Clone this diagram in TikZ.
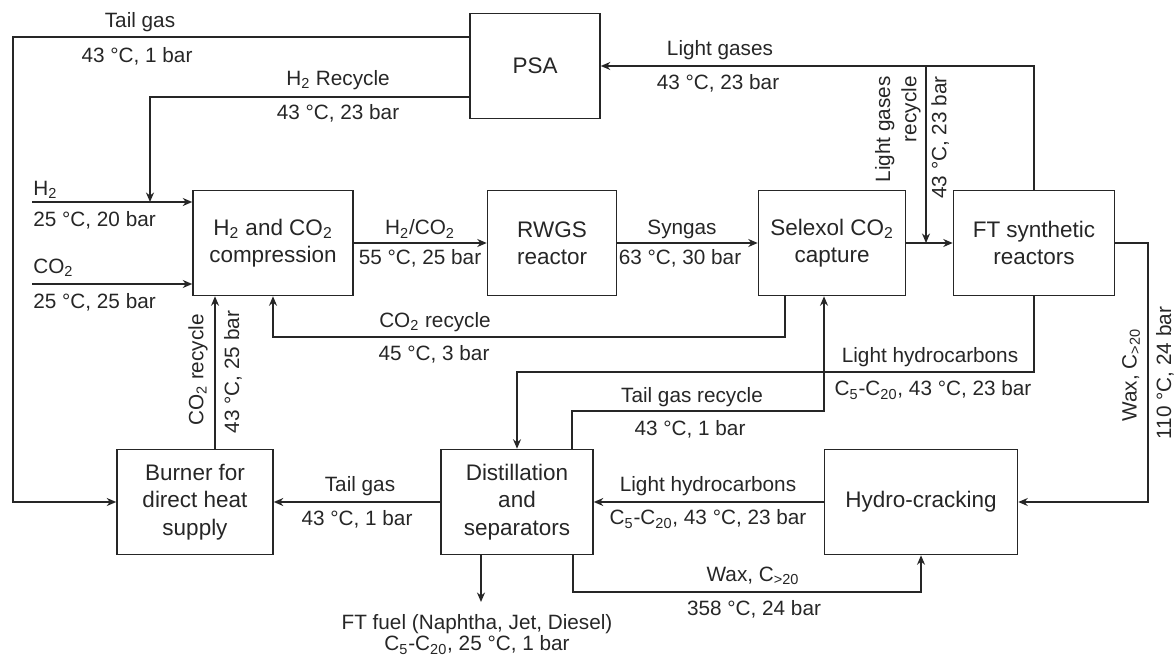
\documentclass[tikz,border=0pt]{standalone}
\usepackage{fontspec}
\setmainfont{Liberation Sans}
\usepackage{tikz}
\usetikzlibrary{positioning,arrows.meta}
\usepackage{xcolor}

\begin{document}
\begin{tikzpicture}[x=0.02cm,y=-0.02cm,>={Stealth[length=1.9mm,width=1.6mm]},
  proc/.style={draw=black!85,line width=0.9pt,align=center,inner sep=0pt,minimum height=2.1cm,text=black!85,font=\fontsize{12.8}{15.5}\selectfont},
  flow/.style={->,draw=black!85,line width=1.6pt},
  lbl/.style={inner sep=0pt,text=black!85,font=\fontsize{11.8}{15}\selectfont}]
\useasboundingbox (0,0) rectangle (1175,658);
\node[proc,minimum width=2.6cm] (psa) at (535,66) {PSA};
\node[proc,minimum width=3.2cm] (comp) at (273,243) {H\textsubscript{2} and CO\textsubscript{2}\\compression};
\node[proc,minimum width=2.58cm] (rwgs) at (552,243) {RWGS\\reactor};
\node[proc,minimum width=2.94cm] (selexol) at (832,243) {Selexol CO\textsubscript{2}\\capture};
\node[proc,minimum width=3.22cm] (ft) at (1034,243) {FT synthetic\\reactors};
\node[proc,minimum width=3.12cm] (burner) at (195,502) {Burner for\\direct heat\\supply};
\node[proc,minimum width=3.04cm] (distill) at (517,502) {Distillation\\and\\separators};
\node[proc,minimum width=3.86cm] (hydro) at (921,502) {Hydro-cracking};

\coordinate (rail) at (13,0);
\coordinate (h2in) at (32,202);
\coordinate (co2in) at (32,284);
\coordinate (h2drop) at (150,202);
\coordinate (lgsplit) at (926,66);
\coordinate (co2bend) at (785,337);
\coordinate (brise) at (215,0);
\coordinate (lhlevel) at (0,372);
\coordinate (tgrup) at (572,0);
\coordinate (tgrbend) at (824,411);
\coordinate (fuelout) at (481,602);
\coordinate (waxlow) at (573,592);
\coordinate (waxrail) at (1148,0);

\draw[flow] (psa.west |- 0,37) -| (rail |- burner.west) -- (burner.west);
\draw[flow] (psa.west |- 0,97) -| (h2drop);
\draw[flow] (h2in) -- (comp.west |- h2in);
\draw[flow] (co2in) -- (comp.west |- co2in);
\draw[flow] (comp.east) -- (rwgs.west);
\draw[flow] (rwgs.east) -- (selexol.west);
\draw[flow] (selexol.east) -- (ft.west);
\draw[flow] (ft.north) |- (psa.east);
\draw[flow] (lgsplit) -- (lgsplit |- selexol.east);
\draw[flow] (selexol.south -| co2bend) -- (co2bend) -| (comp.south);
\draw[flow] (burner.north -| brise) -- (comp.south -| brise);
\draw[flow] (ft.south) |- (lhlevel -| distill.north) -- (distill.north);
\draw[flow] (distill.north -| tgrup) |- (tgrbend) -- (selexol.south -| tgrbend);
\draw[flow] (distill.west) -- (burner.east);
\draw[flow] (hydro.west) -- (distill.east);
\draw[flow] (distill.south -| fuelout) -- (fuelout);
\draw[flow] (distill.south -| waxlow) -- (waxlow) -| (hydro.south);
\draw[flow] (ft.east) -| (waxrail |- hydro.east) -- (hydro.east);

\node[lbl] (tgA) at (140,22) {Tail gas};
\node[lbl] (tgB) at (137,56) {43 °C, 1 bar};
\node[lbl] (hrA) at (338,80) {H\textsubscript{2} Recycle};
\node[lbl] (hrB) at (338,113) {43 °C, 23 bar};
\node[lbl,anchor=west] (hA) at (33,190) {H\textsubscript{2}};
\node[lbl,anchor=west] (hB) at (33,220) {25 °C, 20 bar};
\node[lbl,anchor=west] (cA) at (33,268) {CO\textsubscript{2}};
\node[lbl,anchor=west] (cB) at (33,302) {25 °C, 25 bar};
\node[lbl] (mixA) at (420,229) {H\textsubscript{2}/CO\textsubscript{2}};
\node[lbl] (mixB) at (420,258) {55 °C, 25 bar};
\node[lbl] (sgA) at (682,229) {Syngas};
\node[lbl] (sgB) at (680,258) {63 °C, 30 bar};
\node[lbl] (lgA) at (720,50) {Light gases};
\node[lbl] (lgB) at (718,83) {43 °C, 23 bar};
\node[lbl,rotate=90,align=right,anchor=south east] (lgrA) at (921,76) {Light gases\\recycle};
\node[lbl,rotate=90,anchor=north east] (lgrB) at (931,76) {43 °C, 23 bar};
\node[lbl] (crA) at (435,322) {CO\textsubscript{2} recycle};
\node[lbl] (crB) at (434,354) {45 °C, 3 bar};
\node[lbl,rotate=90] (brA) at (198,370) {CO\textsubscript{2} recycle};
\node[lbl,rotate=90] (brB) at (233,372) {43 °C, 25 bar};
\node[lbl] (lhA) at (930,357) {Light hydrocarbons};
\node[lbl] (lhB) at (933,390) {C\textsubscript{5}-C\textsubscript{20}, 43 °C, 23 bar};
\node[lbl] (trA) at (692,397) {Tail gas recycle};
\node[lbl] (trB) at (690,429) {43 °C, 1 bar};
\node[lbl,rotate=90] (wrA) at (1131,375) {Wax, C\textsubscript{>20}};
\node[lbl,rotate=90] (wrB) at (1165,373) {110 °C, 24 bar};
\node[lbl] (btA) at (360,486) {Tail gas};
\node[lbl] (btB) at (357,519) {43 °C, 1 bar};
\node[lbl] (hlA) at (708,486) {Light hydrocarbons};
\node[lbl] (hlB) at (708,519) {C\textsubscript{5}-C\textsubscript{20}, 43 °C, 23 bar};
\node[lbl] (wlA) at (753,576) {Wax, C\textsubscript{>20}};
\node[lbl] (wlB) at (754,609) {358 °C, 24 bar};
\node[lbl] (fuA) at (477,624) {FT fuel (Naphtha, Jet, Diesel)};
\node[lbl] (fuB) at (477,645) {C\textsubscript{5}-C\textsubscript{20}, 25 °C, 1 bar};
\end{tikzpicture}
\end{document}
